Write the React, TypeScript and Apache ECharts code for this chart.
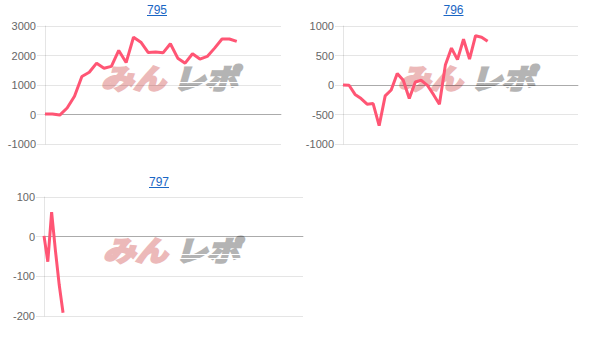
import React, { useEffect, useRef } from "react";
import * as echarts from "echarts";

// Machine numbers shown above each panel
const machineNames = ["795", "796", "797"];

// Number of x-axis slots per panel (the line covers only the played part)
const slotCounts = [33, 40, 69];

// Coin difference per sample point
const diff795 = [
  20, 20, -20, 220, 620, 1290, 1430, 1740, 1570, 1630, 2170, 1760, 2620, 2450,
  2100, 2120, 2090, 2400, 1910, 1740, 2060, 1880, 1970, 2250, 2560, 2560, 2480,
];
const diff796 = [
  0, -5, -160, -230, -325, -315, -690, -185, -85, 195, 80, -230, 50, 80, -5,
  -160, -325, 345, 625, 430, 775, 440, 835, 810, 740,
];
const diff797 = [2, -63, 62, -35, -122, -192];

// Y-axis ranges: [min, max, interval]
const yRanges: [number, number, number][] = [
  [-1000, 3000, 1000],
  [-1000, 1000, 500],
  [-200, 100, 100],
];

const seriesData = [diff795, diff796, diff797];

// Panel geometry in page pixels
const panels = [
  { left: 45, top: 26, width: 236, height: 118, titleX: 157, titleY: 9.5, markX: 100, markY: 77 },
  { left: 343, top: 26, width: 235, height: 118, titleX: 453.5, titleY: 9.5, markX: 397, markY: 77 },
  { left: 44, top: 197, width: 259, height: 119, titleX: 159, titleY: 181.5, markX: 102, markY: 249 },
];

const LINE_COLOR = "#ff5574";
const LINK_COLOR = "#1a66c4";
const FONT = "Arial, 'Liberation Sans', sans-serif";
const MARK_FONT = `italic bold 28px "Noto Sans CJK JP", sans-serif`;

export default function App() {
  const ref = useRef<HTMLDivElement>(null);

  useEffect(() => {
    if (!ref.current) return;
    const chart = echarts.init(ref.current, undefined, { renderer: "svg" });

    const graphics: any[] = [];
    panels.forEach((p, i) => {
      // underlined link-style title
      graphics.push({
        type: "text",
        x: p.titleX,
        y: p.titleY,
        style: {
          text: machineNames[i],
          fill: LINK_COLOR,
          font: `12px ${FONT}`,
          textAlign: "center",
          textVerticalAlign: "middle",
        },
      });
      graphics.push({
        type: "rect",
        shape: { x: p.titleX - 10, y: p.titleY + 5.5, width: 20, height: 1 },
        style: { fill: LINK_COLOR },
      });
      // brand watermark behind the plot
      graphics.push({
        type: "text",
        x: p.markX + 1,
        y: p.markY,
        scaleX: 1.15,
        style: {
          text: "みん",
          fill: "#ecb9b9",
          stroke: "#ecb9b9",
          lineWidth: 2.5,
          font: MARK_FONT,
          textVerticalAlign: "middle",
        },
      });
      graphics.push({
        type: "text",
        x: p.markX + 73,
        y: p.markY,
        scaleX: 1.15,
        style: {
          text: "レポ",
          fill: "#b4b4b4",
          stroke: "#b4b4b4",
          lineWidth: 2.5,
          font: MARK_FONT,
          textVerticalAlign: "middle",
        },
      });
      [5, 9].forEach((dy) => {
        graphics.push({
          type: "rect",
          shape: { x: p.markX + 74, y: p.markY + dy, width: 72, height: 1 },
          style: { fill: "#ffffff" },
        });
      });
    });

    const option: any = {
      animation: false,
      graphic: graphics,
      grid: panels.map((p) => ({
        left: p.left,
        top: p.top,
        width: p.width,
        height: p.height,
        containLabel: false,
      })),
      xAxis: panels.map((_, i) => ({
        type: "category",
        gridIndex: i,
        boundaryGap: false,
        data: Array.from({ length: slotCounts[i] }, (_, k) => String(k + 1)),
        axisLabel: { show: false },
        axisTick: { show: false },
        splitLine: { show: false },
        axisLine: {
          show: true,
          onZero: true,
          lineStyle: { color: "rgba(0,0,0,0.25)", width: 1 },
        },
      })),
      yAxis: panels.map((_, i) => ({
        type: "value",
        gridIndex: i,
        min: yRanges[i][0],
        max: yRanges[i][1],
        interval: yRanges[i][2],
        axisLine: { show: true, lineStyle: { color: "rgba(0,0,0,0.1)" } },
        axisTick: { show: true, length: 8, lineStyle: { color: "rgba(0,0,0,0.1)" } },
        splitLine: { show: true, lineStyle: { color: "rgba(0,0,0,0.1)" } },
        axisLabel: {
          color: "#666",
          fontSize: 11,
          fontFamily: FONT,
          margin: 9,
          formatter: (v: number) => String(v),
        },
      })),
      series: seriesData.map((d, i) => ({
        type: "line",
        xAxisIndex: i,
        yAxisIndex: i,
        data: d,
        showSymbol: false,
        symbol: "none",
        lineStyle: { color: LINE_COLOR, width: 3 },
        z: 5,
      })),
    };

    chart.setOption(option);
    return () => chart.dispose();
  }, []);

  return (
    <div
      ref={ref}
      style={{ position: "absolute", left: 0, top: 0, width: 613, height: 341 }}
    />
  );
}
